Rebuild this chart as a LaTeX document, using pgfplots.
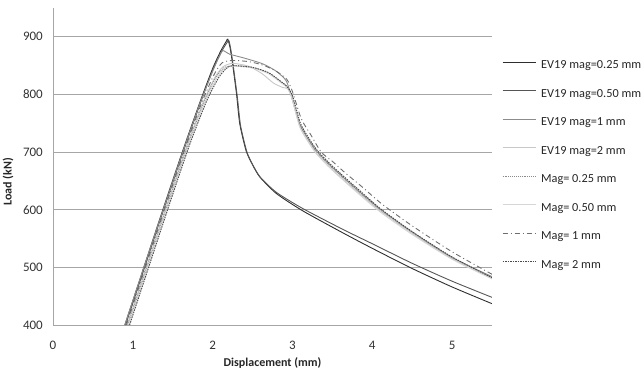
\documentclass[border=0pt]{standalone}
\usepackage{pgfplots}
\pgfplotsset{compat=1.18}
\usepackage{fontspec}
\setmainfont{Carlito}

\definecolor{gridgray}{HTML}{A6A6A6}
\definecolor{evA}{HTML}{2E2E2E}
\definecolor{evB}{HTML}{555555}
\definecolor{evC}{HTML}{8C8C8C}
\definecolor{evD}{HTML}{C8C8C8}
\definecolor{mgA}{HTML}{8A8A8A}
\definecolor{mgB}{HTML}{D6D6D6}
\definecolor{mgC}{HTML}{6E6E6E}
\definecolor{mgD}{HTML}{4A4A4A}

\begin{document}
\begin{tikzpicture}
\path[use as bounding box] (-53bp,-46bp) rectangle (591bp,325bp);
\begin{axis}[
  scale only axis,
  width=439bp, height=317bp,
  xmin=0, xmax=5.5, ymin=400, ymax=950,
  xtick={0,1,2,3,4,5},
  ytick={400,500,600,700,800,900},
  major tick length=0pt,
  axis lines*=left,
  axis line style={gridgray, line width=0.8bp, -},
  ymajorgrids,
  major grid style={gridgray, line width=0.8bp},
  /pgf/number format/assume math mode=true,
  tick label style={font=\fontsize{13bp}{15bp}\selectfont, text=black!80},
  yticklabel style={inner sep=0pt, anchor=east, xshift=-10bp},
  xticklabel style={inner sep=0pt, anchor=center, yshift=-20bp},
  xlabel={Displacement (mm)},
  ylabel={Load (kN)},
  label style={font=\bfseries\fontsize{12bp}{14bp}\selectfont, text=black!85},
  xlabel style={at={(axis description cs:0.5,-0.12)}, anchor=center},
  ylabel style={at={(axis description cs:-0.1025,0.451)}, anchor=center, rotate=0},
  legend cell align=left,
  legend image code/.code={\draw[#1] (0bp,4bp) -- (33bp,4bp);},
  legend style={draw=none, fill=none, inner sep=0pt,
    at={(axis description cs:1.0228,0.8312)}, anchor=north west,
    row sep=19.5bp, column sep=5bp,
    nodes={inner sep=0pt, text height=7bp, text depth=2bp,
      font=\fontsize{12.3bp}{14bp}\selectfont, text=black!85}},
  every axis plot/.append style={line width=0.9bp, smooth, tension=0.4},
]
% EV19 mag=0.25 mm
\addplot[evA] coordinates {
 (0.90,400) (1.15,505) (1.40,610) (1.65,712) (1.85,790) (2.00,845) (2.10,875)
 (2.17,892) (2.19,896) (2.22,880) (2.25,853) (2.30,800) (2.34,749) (2.42,702)
 (2.50,678) (2.59,657) (2.80,628) (3.13,598) (3.63,560) (4.00,533) (4.50,498)
 (5.00,466) (5.50,437)};
% EV19 mag=0.50 mm
\addplot[evB] coordinates {
 (0.91,400) (1.16,505) (1.41,610) (1.66,712) (1.86,790) (2.01,845) (2.11,874)
 (2.18,890) (2.205,893) (2.23,876) (2.26,848) (2.31,795) (2.35,746) (2.43,700)
 (2.51,676) (2.60,656) (2.80,630) (3.13,602) (3.63,566) (4.00,541) (4.50,507)
 (5.00,476) (5.50,448)};
% EV19 mag=1 mm
\addplot[evC] coordinates {
 (0.90,400) (1.15,505) (1.40,608) (1.65,710) (1.85,788) (2.00,840) (2.08,865)
 (2.13,876) (2.21,870) (2.40,863) (2.63,853) (2.80,840) (2.92,824) (2.98,800)
 (3.09,749) (3.20,722) (3.30,702) (3.45,680) (3.63,657) (3.85,630) (4.10,601)
 (4.50,561) (5.00,517) (5.50,484)};
% EV19 mag=2 mm
\addplot[evD] coordinates {
 (0.93,400) (1.18,505) (1.43,610) (1.68,712) (1.88,786) (2.03,830) (2.13,848)
 (2.25,854) (2.45,849) (2.62,836) (2.76,820) (2.88,812) (2.94,810) (2.99,795)
 (3.09,745) (3.20,718) (3.30,698) (3.45,676) (3.63,653) (3.85,627) (4.10,598)
 (4.50,559) (5.00,515) (5.50,481)};
% Mag= 0.25 mm
\addplot[mgA, densely dotted] coordinates {
 (0.94,400) (1.19,505) (1.44,610) (1.69,712) (1.89,786) (2.04,830) (2.14,846)
 (2.25,850) (2.50,847) (2.70,837) (2.84,824) (2.93,814) (2.99,798)
 (3.09,748) (3.20,721) (3.30,701) (3.45,679) (3.63,656) (3.85,629) (4.10,600)
 (4.50,561) (5.00,517) (5.50,483)};
% Mag= 0.50 mm
\addplot[mgB] coordinates {
 (0.95,400) (1.20,505) (1.45,610) (1.70,712) (1.90,785) (2.05,828) (2.15,845)
 (2.26,849) (2.50,846) (2.70,836) (2.84,822) (2.93,812) (2.99,795)
 (3.09,744) (3.20,717) (3.30,697) (3.45,675) (3.63,652) (3.85,625) (4.10,596)
 (4.50,557) (5.00,514) (5.50,480)};
% Mag= 1 mm
\addplot[mgC, dash pattern=on 5bp off 3bp on 1bp off 3bp] coordinates {
 (0.92,400) (1.17,505) (1.42,610) (1.67,712) (1.87,788) (2.02,835) (2.12,855)
 (2.25,859) (2.45,857) (2.63,851) (2.80,840) (2.93,826) (3.00,805)
 (3.11,758) (3.23,730) (3.36,700) (3.50,684) (3.66,664) (3.87,640) (4.12,610)
 (4.50,572) (5.00,527) (5.50,488)};
% Mag= 2 mm
\addplot[mgD, dash pattern=on 1.5bp off 1bp] coordinates {
 (0.96,400) (1.21,505) (1.46,610) (1.71,712) (1.92,787) (2.07,828) (2.17,845)
 (2.25,850) (2.50,847) (2.70,838) (2.84,824) (2.93,814) (3.00,798)
 (3.10,750) (3.21,723) (3.31,703) (3.46,681) (3.64,658) (3.86,631) (4.10,602)
 (4.50,562) (5.00,518) (5.50,482)};
\legend{EV19 mag=0.25 mm, EV19 mag=0.50 mm, EV19 mag=1 mm, EV19 mag=2 mm,
  Mag= 0.25 mm, Mag= 0.50 mm, Mag= 1 mm, Mag= 2 mm}
\end{axis}
\end{tikzpicture}
\end{document}
